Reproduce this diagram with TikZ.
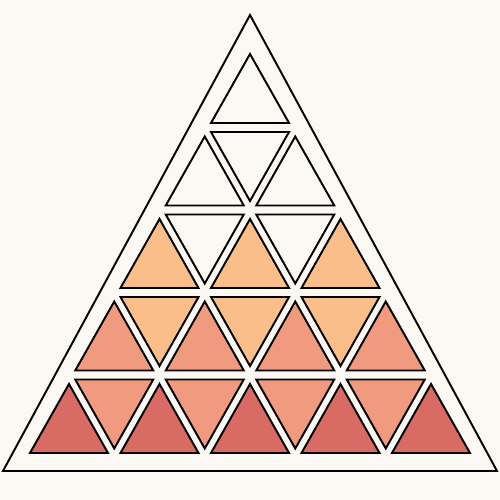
\documentclass[tikz,border=0pt]{standalone}
\usepackage{tikz}
\definecolor{paper}{HTML}{FCF8F3}
\definecolor{peach}{HTML}{F9BE8A}
\definecolor{salmon}{HTML}{F09A80}
\definecolor{coral}{HTML}{D86B64}

\begin{document}
\begin{tikzpicture}[
    tri/.style={
		draw=black,
		line width=1.1pt,
		line join=miter
	},
	outer/.style={
		draw=black,
		line width=1.1pt
	}
  ]

 % // background and frame
 \fill [paper] (0,0) rectangle (10,10);
 \draw [outer] (5,9.7) -- (0.06,0.58) -- (9.94,0.58) -- cycle;

 % // rows of small triangles: row, colour up, colour down
 \foreach \k/\ucol/\dcol in {1/paper/paper, 2/paper/paper, 3/peach/paper, 4/salmon/peach, 5/coral/salmon} {
   \pgfmathsetmacro\yup{9.1-\k*1.65+0.55}
   \pgfmathsetmacro\ydn{9.1-(\k-1)*1.65-0.55}
   \pgfmathtruncatemacro\nup{\k-1}
   \pgfmathtruncatemacro\ndn{\k-2}
   \foreach \j in {0,...,\nup} {
     \pgfmathsetmacro\xc{5+(\j-(\k-1)/2)*1.81}
     \draw [tri, fill=\ucol] (\xc,\yup+0.92) -- (\xc-0.78,\yup-0.46) -- (\xc+0.78,\yup-0.46) -- cycle;
   }
   \ifnum\k>1
   \foreach \j in {0,...,\ndn} {
     \pgfmathsetmacro\xc{5+(\j-(\k-2)/2)*1.81}
     \draw [tri, fill=\dcol] (\xc-0.78,\ydn+0.46) -- (\xc+0.78,\ydn+0.46) -- (\xc,\ydn-0.92) -- cycle;
   }
   \fi
 }

\end{tikzpicture}
\end{document}
